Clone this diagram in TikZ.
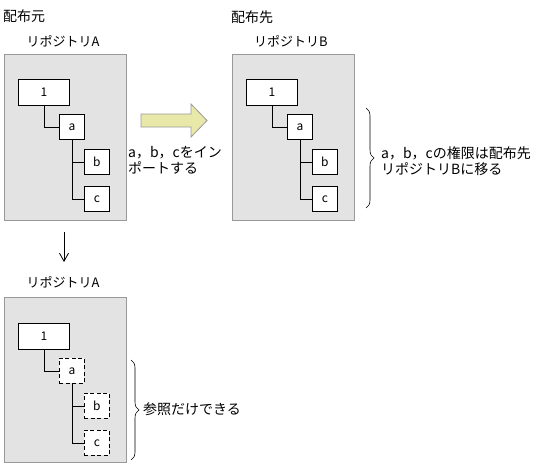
\documentclass[tikz,border=0pt]{standalone}
\usepackage{fontspec}
\setmainfont{Noto Sans CJK JP}
\usetikzlibrary{arrows.meta,decorations.pathreplacing}
\definecolor{boxgray}{HTML}{E3E3E3}
\definecolor{edgegray}{HTML}{999999}
\definecolor{arrowfill}{HTML}{E8E8A8}
\begin{document}
\begin{tikzpicture}[x=1pt,y=-1pt,
  txt/.style={font=\fontsize{14}{16}\selectfont, inner sep=0pt},
  rtxt/.style={font=\fontsize{13}{16}\selectfont, inner sep=0pt},
  repo/.style={draw=edgegray, fill=boxgray, line width=1pt, minimum width=122pt, minimum height=166pt, anchor=north west, inner sep=0pt},
  rootbox/.style={draw=black, fill=white, line width=0.9pt, minimum width=51pt, minimum height=26pt, anchor=north west, inner sep=0pt, font=\fontsize{12}{12}\selectfont},
  leaf/.style={draw=black, fill=white, line width=0.9pt, minimum width=25pt, minimum height=25pt, anchor=north west, inner sep=0pt, font=\fontsize{12}{12}\selectfont},
  dleaf/.style={leaf, dash pattern=on 4pt off 2.5pt},
  link/.style={draw=black, line width=0.9pt},
  bracedeco/.style={decorate, decoration={brace, amplitude=8pt}, line width=0.6pt}
]
\useasboundingbox[fill=white] (0,0) rectangle (537,466);

% labels
\node[txt, anchor=west] (lblsrc) at (3,16) {配布元};
\node[rtxt] (lblA) at (63,41) {リポジトリA};
\node[txt, anchor=west] (lbldst) at (231,17) {配布先};
\node[rtxt] (lblB) at (291,41) {リポジトリB};

% repository A
\node[repo] (boxA) at (4,54) {};
\node[rootbox] (A1) at (18,79) {1};
\node[leaf] (Aa) at (59,114) {a};
\node[leaf] (Ab) at (84,149) {b};
\node[leaf] (Ac) at (84,186) {c};
\draw[link] (A1.south) |- (Aa.west);
\draw[link] (Aa.south) |- (Ab.west);
\draw[link] (Aa.south) |- (Ac.west);

% repository B
\node[repo] (boxB) at (232,54) {};
\node[rootbox] (B1) at (246,79) {1};
\node[leaf] (Ba) at (287,114) {a};
\node[leaf] (Bb) at (312,149) {b};
\node[leaf] (Bc) at (312,186) {c};
\draw[link] (B1.south) |- (Ba.west);
\draw[link] (Ba.south) |- (Bb.west);
\draw[link] (Ba.south) |- (Bc.west);

% import arrow
\draw[edgegray, fill=arrowfill, line width=0.8pt]
  (141,114) -- (191,114) -- (191,104) -- (207,120.5) -- (191,137) -- (191,127) -- (141,127) -- cycle;
\node[txt, anchor=west, align=left] (importtxt) at (128,160) {a，b，cをイン\\ポートする};

% brace B
\coordinate (braceBtop) at (366,108);
\coordinate (braceBbot) at (366,208);
\draw[bracedeco] (braceBtop) -- (braceBbot);
\node[txt, anchor=west, align=left] (movetxt) at (381,161) {a，b，cの権限は配布先\\リポジトリBに移る};

% down arrow
\coordinate (downstart) at (64,232);
\coordinate (downend) at (64,262);
\draw[line width=0.8pt, -{Straight Barb[length=8pt,width=9pt]}] (downstart) -- (downend);

% repository A after
\node[rtxt] (lblA2) at (63,282) {リポジトリA};
\node[repo, minimum height=165pt] (boxC) at (4,297) {};
\node[rootbox] (C1) at (18,323) {1};
\node[dleaf] (Ca) at (59,358) {a};
\node[dleaf] (Cb) at (84,393) {b};
\node[dleaf] (Cc) at (84,430) {c};
\draw[link] (C1.south) |- (Ca.west);
\draw[link] (Ca.south) |- (Cb.west);
\draw[link] (Ca.south) |- (Cc.west);

% brace C
\coordinate (braceCtop) at (131,360);
\coordinate (braceCbot) at (131,460);
\draw[bracedeco] (braceCtop) -- (braceCbot);
\node[txt, anchor=west] (reftxt) at (143,409) {参照だけできる};
\end{tikzpicture}
\end{document}
